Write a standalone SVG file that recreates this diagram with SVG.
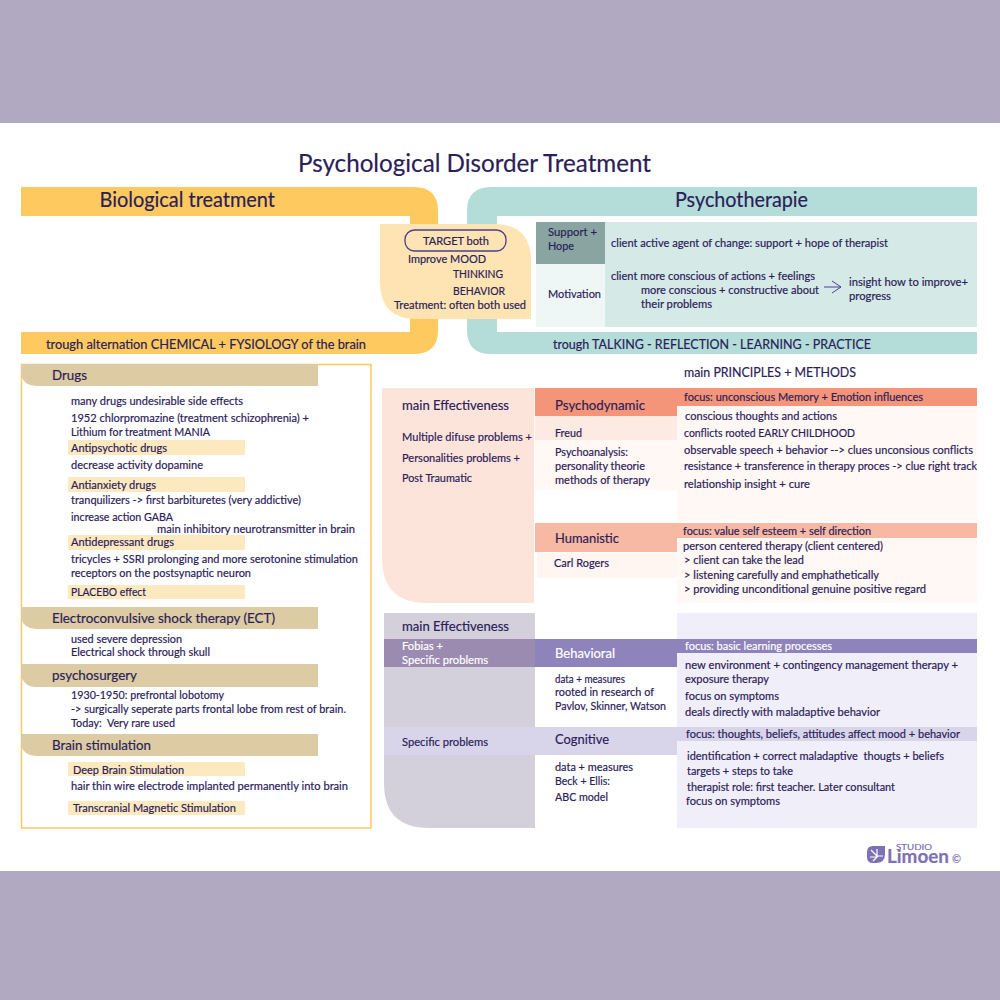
<svg xmlns="http://www.w3.org/2000/svg" width="1000" height="1000" viewBox="0 0 1000 1000">
<defs>
<marker id="open" markerWidth="11" markerHeight="14" refX="10" refY="7" orient="auto" markerUnits="userSpaceOnUse"><path d="M1 1L10 7L1 13" fill="none" stroke="#4d3f8f" stroke-width="1"/></marker>
</defs>
<style>
text{font-family:Lato,"Noto Sans",sans-serif;fill:#2a2058;stroke:#2a2058;stroke-width:.18px;font-size:11.5px}
.title{font-size:25px}
.h1{font-size:21px}
.h2{font-size:13px}
.h3{font-size:14px}
.w{fill:#fff;stroke:#fff}
.lg{fill:#7d70b3;stroke:#7d70b3}
.l{fill:#fde9c0}
.hd{fill:#dccba3}
</style>
<rect width="1000" height="1000" fill="#fff"/>
<rect width="1000" height="123" fill="#b1a9c2"/>
<rect y="871" width="1000" height="129" fill="#b1a9c2"/>
<text class="title" x="298" y="172" textLength="353" lengthAdjust="spacingAndGlyphs">Psychological Disorder Treatment</text>

<g id="biological">
<path d="M21 187H414Q438 187 438 211V330Q438 354 414 354H21V332H410V216H21Z" fill="#fec95f"/>
<text class="h1" x="99.500" y="207" textLength="175.500" lengthAdjust="spacingAndGlyphs">Biological treatment</text>
<text class="h2" x="46" y="348.500" textLength="320" lengthAdjust="spacingAndGlyphs">trough alternation CHEMICAL + FYSIOLOGY of the brain</text>
</g>

<g id="psychotherapie">
<path d="M977 187H491Q467 187 467 211V330Q467 354 491 354H977V332H497V216H977Z" fill="#b4dcd8"/>
<text class="h1" x="675" y="206.500" textLength="133" lengthAdjust="spacingAndGlyphs">Psychotherapie</text>
<text class="h2" x="553" y="348.500" textLength="318" lengthAdjust="spacingAndGlyphs">trough TALKING - REFLECTION - LEARNING - PRACTICE</text>
</g>

<g id="target">
<path d="M380 224H494Q531 224 531 261V319H417Q380 319 380 282Z" fill="#fee4b3"/>
<rect x="405" y="230" width="101" height="21" rx="9.500" fill="none" stroke="#4a3f8a" stroke-width="1.300"/>
<text x="423" y="245" textLength="66" lengthAdjust="spacingAndGlyphs">TARGET both</text>
<text x="408" y="263" textLength="78" lengthAdjust="spacingAndGlyphs">Improve MOOD</text>
<text x="453" y="278" textLength="50" lengthAdjust="spacingAndGlyphs">THINKING</text>
<text x="453" y="295" textLength="52" lengthAdjust="spacingAndGlyphs">BEHAVIOR</text>
<text x="394" y="309" textLength="132" lengthAdjust="spacingAndGlyphs">Treatment: often both used</text>
</g>

<g id="support">
<rect x="536" y="222" width="69" height="42" fill="#8aa5a1"/>
<rect x="605" y="222" width="372" height="105" fill="#d5e9e7"/>
<text x="548" y="236" textLength="49" lengthAdjust="spacingAndGlyphs">Support +</text>
<text x="548" y="249.500" textLength="26" lengthAdjust="spacingAndGlyphs">Hope</text>
<text x="611" y="247" textLength="277" lengthAdjust="spacingAndGlyphs">client active agent of change: support + hope of therapist</text>
</g>

<g id="motivation">
<rect x="536" y="264" width="69" height="63" fill="#eff7f6"/>
<text x="548" y="298" textLength="53" lengthAdjust="spacingAndGlyphs">Motivation</text>
<text x="611" y="280" textLength="204" lengthAdjust="spacingAndGlyphs">client more conscious of actions + feelings</text>
<text x="641" y="294" textLength="178" lengthAdjust="spacingAndGlyphs">more conscious + constructive about</text>
<text x="641" y="307.500" textLength="71" lengthAdjust="spacingAndGlyphs">their problems</text>
<text x="849" y="286" textLength="119" lengthAdjust="spacingAndGlyphs">insight how to improve+</text>
<text x="849" y="300" textLength="42" lengthAdjust="spacingAndGlyphs">progress</text>
</g>

<g id="connectors">
<path d="M824 287H841" fill="none" stroke="#4d3f8f" stroke-width="1" marker-end="url(#open)"/>
</g>

<g id="left-panel">
<rect x="21.500" y="364.500" width="349.500" height="463.500" fill="#fff" stroke="#fec95f" stroke-width="1.500"/>
<g id="drugs">
<path class="hd" d="M21 364H318V386H36Q24 386 21 375Z"/>
<text class="h3" x="52" y="379.500" textLength="35" lengthAdjust="spacingAndGlyphs">Drugs</text>
<text x="71" y="404.500" textLength="172" lengthAdjust="spacingAndGlyphs">many drugs undesirable side effects</text>
<text x="71" y="421.500" textLength="238" lengthAdjust="spacingAndGlyphs">1952 chlorpromazine (treatment schizophrenia) +</text>
<text x="71" y="435.500" textLength="139" lengthAdjust="spacingAndGlyphs">Lithium for treatment MANIA</text>
<rect class="l" x="68" y="440" width="177" height="15"/>
<text x="71" y="451.500" textLength="96" lengthAdjust="spacingAndGlyphs">Antipsychotic drugs</text>
<text x="71" y="469" textLength="132" lengthAdjust="spacingAndGlyphs">decrease activity dopamine</text>
<rect class="l" x="68" y="477" width="177" height="15"/>
<text x="71" y="488.500" textLength="85" lengthAdjust="spacingAndGlyphs">Antianxiety drugs</text>
<text x="71" y="503.500" textLength="230" lengthAdjust="spacingAndGlyphs">tranquilizers -&gt; first barbituretes (very addictive)</text>
<text x="71" y="520.500" textLength="102" lengthAdjust="spacingAndGlyphs">increase action GABA</text>
<text x="157" y="533" textLength="198" lengthAdjust="spacingAndGlyphs">main inhibitory neurotransmitter in brain</text>
<rect class="l" x="68" y="535" width="177" height="15"/>
<text x="71" y="546" textLength="103" lengthAdjust="spacingAndGlyphs">Antidepressant drugs</text>
<text x="71" y="562.500" textLength="287" lengthAdjust="spacingAndGlyphs">tricycles + SSRI prolonging and more serotonine stimulation</text>
<text x="71" y="576.500" textLength="180" lengthAdjust="spacingAndGlyphs">receptors on the postsynaptic neuron</text>
<rect class="l" x="68" y="585" width="177" height="14"/>
<text x="71" y="595.500" textLength="75" lengthAdjust="spacingAndGlyphs">PLACEBO effect</text>
</g>
<g id="ect">
<path class="hd" d="M21 607H318V629H36Q24 629 21 618Z"/>
<text class="h3" x="52" y="623" textLength="223" lengthAdjust="spacingAndGlyphs">Electroconvulsive shock therapy (ECT)</text>
<text x="71" y="643" textLength="111" lengthAdjust="spacingAndGlyphs">used severe depression</text>
<text x="71" y="656" textLength="139" lengthAdjust="spacingAndGlyphs">Electrical shock through skull</text>
</g>
<g id="psychosurgery">
<path class="hd" d="M21 664H318V687H36Q24 687 21 675Z"/>
<text class="h3" x="52" y="679.500" textLength="85" lengthAdjust="spacingAndGlyphs">psychosurgery</text>
<text x="71" y="699" textLength="153" lengthAdjust="spacingAndGlyphs">1930-1950: prefrontal lobotomy</text>
<text x="71" y="713" textLength="275" lengthAdjust="spacingAndGlyphs">-&gt; surgically seperate parts frontal lobe from rest of brain.</text>
<text x="71" y="727" textLength="104" lengthAdjust="spacingAndGlyphs" xml:space="preserve">Today:  Very rare used</text>
</g>
<g id="brain-stimulation">
<path class="hd" d="M21 734H318V756H36Q24 756 21 745Z"/>
<text class="h3" x="52" y="750" textLength="99" lengthAdjust="spacingAndGlyphs">Brain stimulation</text>
<rect class="l" x="68" y="762" width="177" height="14"/>
<text x="73" y="774" textLength="111" lengthAdjust="spacingAndGlyphs">Deep Brain Stimulation</text>
<text x="71" y="790" textLength="277" lengthAdjust="spacingAndGlyphs">hair thin wire electrode implanted permanently into brain</text>
<rect class="l" x="68" y="801" width="177" height="14"/>
<text x="73" y="811.500" textLength="163" lengthAdjust="spacingAndGlyphs">Transcranial Magnetic Stimulation</text>
</g>
</g>

<text class="h2" x="684" y="377" textLength="172" lengthAdjust="spacingAndGlyphs">main PRINCIPLES + METHODS</text>

<g id="effectiveness-upper">
<path d="M382 388H534V603H427Q382 603 382 558Z" fill="#fde4db"/>
<text class="h2" x="402" y="409.500" textLength="107" lengthAdjust="spacingAndGlyphs">main Effectiveness</text>
<text x="402" y="441" textLength="130" lengthAdjust="spacingAndGlyphs">Multiple difuse problems +</text>
<text x="402" y="462" textLength="118" lengthAdjust="spacingAndGlyphs">Personalities problems +</text>
<text x="402" y="482" textLength="70" lengthAdjust="spacingAndGlyphs">Post Traumatic</text>
</g>

<g id="psychodynamic">
<rect x="677" y="406" width="300" height="115" fill="#fff8f5"/>
<rect x="535" y="416" width="142" height="24" fill="#fdeae3"/>
<rect x="535" y="440" width="142" height="50" fill="#fff8f5"/>
<path d="M535 388H977V406H677V416H535Z" fill="#f4957a"/>
<text class="h3" x="555" y="409.500" textLength="90" lengthAdjust="spacingAndGlyphs">Psychodynamic</text>
<text x="555" y="437" textLength="27" lengthAdjust="spacingAndGlyphs">Freud</text>
<text x="555" y="456" textLength="73" lengthAdjust="spacingAndGlyphs">Psychoanalysis:</text>
<text x="555" y="470" textLength="90" lengthAdjust="spacingAndGlyphs">personality theorie</text>
<text x="555" y="483.500" textLength="95" lengthAdjust="spacingAndGlyphs">methods of therapy</text>
<text x="684" y="401" textLength="239" lengthAdjust="spacingAndGlyphs">focus: unconscious Memory + Emotion influences</text>
<text x="685" y="420" textLength="152" lengthAdjust="spacingAndGlyphs">conscious thoughts and actions</text>
<text x="684" y="437" textLength="171" lengthAdjust="spacingAndGlyphs">conflicts rooted EARLY CHILDHOOD</text>
<text x="684" y="453.500" textLength="289" lengthAdjust="spacingAndGlyphs">observable speech + behavior --&gt; clues unconsious conflicts</text>
<text x="684" y="470" textLength="293" lengthAdjust="spacingAndGlyphs">resistance + transference in therapy proces -&gt; clue right track</text>
<text x="684" y="488" textLength="126" lengthAdjust="spacingAndGlyphs">relationship insight + cure</text>
</g>

<g id="humanistic">
<rect x="677" y="538" width="300" height="65" fill="#fff8f5"/>
<rect x="537" y="553" width="140" height="25" fill="#fff5f1"/>
<path d="M535 523H977V538H677V552H535Z" fill="#f7b9a3"/>
<text class="h3" x="555" y="543" textLength="64" lengthAdjust="spacingAndGlyphs">Humanistic</text>
<text x="554" y="567" textLength="55" lengthAdjust="spacingAndGlyphs">Carl Rogers</text>
<text x="683" y="535" textLength="188" lengthAdjust="spacingAndGlyphs">focus: value self esteem + self direction</text>
<text x="683" y="550" textLength="200" lengthAdjust="spacingAndGlyphs">person centered therapy (client centered)</text>
<text x="684" y="564" textLength="120" lengthAdjust="spacingAndGlyphs">&gt; client can take the lead</text>
<text x="684" y="579" textLength="195" lengthAdjust="spacingAndGlyphs">&gt; listening carefully and emphathetically</text>
<text x="684" y="592.500" textLength="242" lengthAdjust="spacingAndGlyphs">&gt; providing unconditional genuine positive regard</text>
</g>

<g id="effectiveness-lower">
<path d="M384 613H535V828H429Q384 828 384 783Z" fill="#d3d0dc"/>
<rect x="677" y="613" width="300" height="215" fill="#f0eef8"/>
<text class="h2" x="402" y="630.500" textLength="107" lengthAdjust="spacingAndGlyphs">main Effectiveness</text>
</g>

<g id="behavioral">
<path d="M535 639H977V653H677V667H535Z" fill="#8e83bb"/>
<rect x="384" y="639" width="151" height="28" fill="#9c8bb0"/>
<text class="w" x="402" y="650" textLength="41" lengthAdjust="spacingAndGlyphs">Fobias +</text>
<text class="w" x="402" y="664" textLength="86" lengthAdjust="spacingAndGlyphs">Specific problems</text>
<text class="h3 w" x="555" y="657.500" textLength="60" lengthAdjust="spacingAndGlyphs">Behavioral</text>
<text x="555" y="682.500" textLength="70" lengthAdjust="spacingAndGlyphs">data + measures</text>
<text x="555" y="695.500" textLength="99" lengthAdjust="spacingAndGlyphs">rooted in research of</text>
<text x="555" y="709.500" textLength="111" lengthAdjust="spacingAndGlyphs">Pavlov, Skinner, Watson</text>
<text class="w" x="685" y="650" textLength="147" lengthAdjust="spacingAndGlyphs">focus: basic learning processes</text>
<text x="685" y="669" textLength="273" lengthAdjust="spacingAndGlyphs">new environment + contingency management therapy +</text>
<text x="685" y="682.500" textLength="84" lengthAdjust="spacingAndGlyphs">exposure therapy</text>
<text x="685" y="699.500" textLength="94" lengthAdjust="spacingAndGlyphs">focus on symptoms</text>
<text x="685" y="716" textLength="195" lengthAdjust="spacingAndGlyphs">deals directly with maladaptive behavior</text>
</g>

<g id="cognitive">
<path d="M384 727H977V741H677V755H384Z" fill="#d8d5ea"/>
<text x="402" y="746" textLength="86" lengthAdjust="spacingAndGlyphs">Specific problems</text>
<text class="h3" x="555" y="743.500" textLength="54" lengthAdjust="spacingAndGlyphs">Cognitive</text>
<text x="555" y="770.500" textLength="78" lengthAdjust="spacingAndGlyphs">data + measures</text>
<text x="555" y="784.500" textLength="55" lengthAdjust="spacingAndGlyphs">Beck + Ellis:</text>
<text x="555" y="801" textLength="53" lengthAdjust="spacingAndGlyphs">ABC model</text>
<text x="686" y="737.500" textLength="274" lengthAdjust="spacingAndGlyphs">focus: thoughts, beliefs, attitudes affect mood + behavior</text>
<text x="687" y="760" textLength="257" lengthAdjust="spacingAndGlyphs" xml:space="preserve">identification + correct maladaptive  thougts + beliefs</text>
<text x="687" y="775" textLength="106" lengthAdjust="spacingAndGlyphs">targets + steps to take</text>
<text x="687" y="791" textLength="208" lengthAdjust="spacingAndGlyphs">therapist role: first teacher. Later consultant</text>
<text x="686" y="805" textLength="94" lengthAdjust="spacingAndGlyphs">focus on symptoms</text>
</g>

<g id="logo">
<path d="M873 846H885V854Q885 863 876 863H873Q867 863 867 857V852Q867 846 873 846Z" fill="#7d70b3"/>
<path d="M871 850L877 856M877 849V856H883M870 857H877L873 861" fill="none" stroke="#fff" stroke-width="1.200"/>
<text class="lg" x="896" y="850" style="font-size:8px" textLength="36" lengthAdjust="spacingAndGlyphs">STUDIO</text>
<text class="lg" x="887" y="863" style="font-size:18px;font-weight:700" textLength="62" lengthAdjust="spacingAndGlyphs">Limoen</text>
<text class="lg" x="952" y="863" style="font-size:11px" textLength="9" lengthAdjust="spacingAndGlyphs">©</text>
</g>
</svg>
